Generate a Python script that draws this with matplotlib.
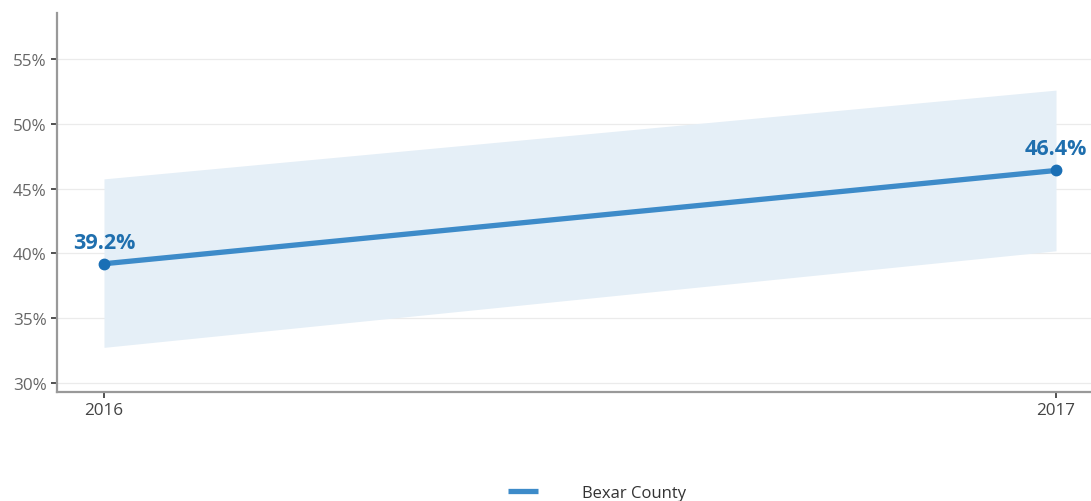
import matplotlib
matplotlib.use("Agg")
import matplotlib.pyplot as plt
from matplotlib.ticker import FuncFormatter

years = [2016, 2017]
values = [39.2, 46.4]
ci_low = [32.75, 40.2]
ci_high = [45.75, 52.6]
series_name = "Bexar County"
yticks = [30, 35, 40, 45, 50, 55]

plt.rcParams['font.family'] = ['Open Sans', 'DejaVu Sans']

fig = plt.figure(figsize=(10.91, 5.02), dpi=100)
ax = fig.add_axes([57/1091, 1-393/502, 1-57/1091, (393-14)/502])

line_c = '#3d8bc9'
lab_c = '#1f6fae'

ax.fill_between(years, ci_low, ci_high, color='#e5eff7', lw=0, zorder=1)
ax.plot(years, values, color=line_c, lw=3.8, solid_capstyle='butt', zorder=3, label=series_name)
ax.plot(years, values, color='#1a6fb5', lw=0, marker='o', ms=7.5, zorder=4)
for x, v in zip(years, values):
    ax.annotate(f"{v:.1f}%", (x, v), xytext=(0, 8), textcoords='offset points',
                ha='center', va='bottom', color=lab_c, fontsize=15.5, fontweight='bold', zorder=5)

ax.set_xlim(2016 - 47/952, 2017 + 35/952)
ax.set_ylim(30 - 9/64.8*5, 55 + 46/64.8*5)
ax.set_xticks(years)
ax.set_xticklabels([str(y) for y in years])
ax.set_yticks(yticks)
ax.yaxis.set_major_formatter(FuncFormatter(lambda v, p: f"{v:.0f}%"))
ax.grid(axis='y', color='#ebebeb', lw=0.9)
ax.set_axisbelow(True)
for s in ['top', 'right']:
    ax.spines[s].set_visible(False)
for s in ['left', 'bottom']:
    ax.spines[s].set_color('#999999')
    ax.spines[s].set_linewidth(1.6)
ax.tick_params(axis='both', colors='#333333', length=4, width=1.2, labelsize=12.3, labelcolor='#666666')
ax.tick_params(axis='x', labelcolor='#444444')

leg = fig.legend(loc='center', bbox_to_anchor=(597/1091, 1-494/502), frameon=False,
                 fontsize=12, handlelength=1.8, handletextpad=2.6)
for t in leg.get_texts():
    t.set_color('#333333')

fig.savefig('out.png', dpi=100)
